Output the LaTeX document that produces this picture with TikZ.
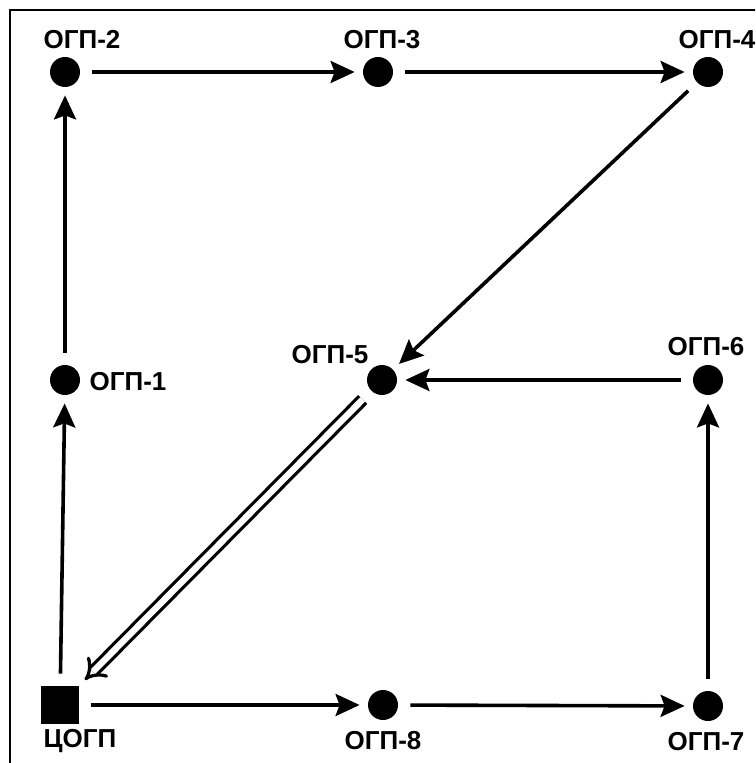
\documentclass[tikz,border=0pt]{standalone}
\usepackage{fontspec}
\setmainfont{Liberation Sans}
\usetikzlibrary{arrows.meta, positioning}

\begin{document}
\begin{tikzpicture}[x=0.5pt, y=-0.5pt,
    pt/.style={circle, fill=black, minimum size=15pt, inner sep=0pt},
    hub/.style={rectangle, fill=black, minimum size=19pt, inner sep=0pt},
    lbl/.style={font=\bfseries\fontsize{13}{15}\selectfont, inner sep=0pt},
    flow/.style={line width=1.8pt, -{Stealth[length=12pt, width=11pt, inset=2pt]}, shorten <=6pt, shorten >=4pt},
    back/.style={line width=1.6pt, double, double distance=3.2pt, -{Implies}, shorten <=6pt, shorten >=4pt}]
  \clip (0,0) rectangle (755,763);
  \fill[white] (0,0) rectangle (755,763);
  \draw[line width=1.1pt] (10,10) rectangle (800,800);

  % points
  \node[hub] (c)  at (60,705)  {};
  \node[pt]  (p1) at (65,380)  {};
  \node[pt]  (p2) at (65,72)   {};
  \node[pt]  (p3) at (378,72)  {};
  \node[pt]  (p4) at (708,72)  {};
  \node[pt]  (p5) at (382,380) {};
  \node[pt]  (p6) at (708,380) {};
  \node[pt]  (p7) at (708,706) {};
  \node[pt]  (p8) at (383,705) {};

  % labels
  \node[lbl] (lc) at (80,741)  {ЦОГП};
  \node[lbl] (l1) at (128,382) {ОГП-1};
  \node[lbl] (l2) at (82,40)   {ОГП-2};
  \node[lbl] (l3) at (382,40)  {ОГП-3};
  \node[lbl] (l4) at (717,40)  {ОГП-4};
  \node[lbl] (l5) at (330,355) {ОГП-5};
  \node[lbl] (l6) at (706,347) {ОГП-6};
  \node[lbl] (l7) at (706,742) {ОГП-7};
  \node[lbl] (l8) at (383,741) {ОГП-8};

  % route
  \draw[flow] (c) -- (p1);
  \draw[flow] (p1) -- (p2);
  \draw[flow] (p2) -- (p3);
  \draw[flow] (p3) -- (p4);
  \draw[flow] (p4) -- (p5);
  \draw[flow] (p6) -- (p5);
  \draw[flow] (c) -- (p8);
  \draw[flow] (p8) -- (p7);
  \draw[flow] (p7) -- (p6);
  \draw[back] (p5) -- (c);
\end{tikzpicture}
\end{document}
